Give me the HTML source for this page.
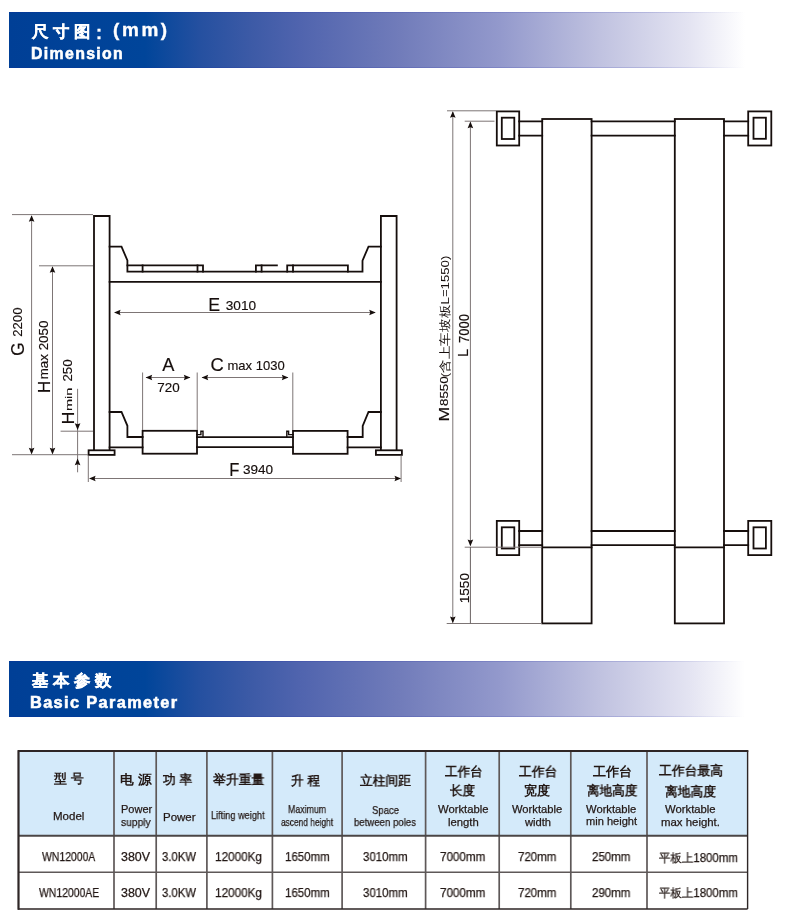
<!DOCTYPE html>
<html><head><meta charset="utf-8"><title>Dimension</title>
<style>
html,body{margin:0;padding:0;background:#fff;}
body{width:800px;height:918px;position:relative;overflow:hidden;font-family:"Liberation Sans",sans-serif;}
.bn{position:absolute;left:9px;width:736px;background:linear-gradient(to right, #003f96 0px, #00459a 136px, #2550a0 191px, #3c5aa6 241px, #5064ae 291px, #717cba 391px, #9399cc 491px, #c0c2e0 591px, #e4e4f2 681px, #ffffff 736px);}
.be{position:absolute;left:9px;width:736px;height:1px;background:linear-gradient(to right, rgba(20,30,160,0.16) 0, rgba(20,30,160,0.16) 640px, rgba(20,30,160,0) 736px);}
.bt{position:absolute;color:#fff;font-weight:bold;white-space:nowrap;line-height:1;}
.thb{position:absolute;background:#d4eafa;}
.ln{position:absolute;background:#3e3a39;}
.t{position:absolute;white-space:nowrap;line-height:1;transform-origin:0 0;will-change:transform;}
svg text{font-family:"Liberation Sans",sans-serif;}
</style></head><body>
<div class="bn" style="top:12px;height:56px"></div><div class="be" style="top:12px"></div><div class="be" style="top:67px"></div>
<svg width="800" height="918" viewBox="0 0 800 918" style="position:absolute;left:0;top:0;will-change:transform">
<path d="M94 450 V216 H109.6 V450" fill="none" stroke="#160e0c" stroke-width="1.8" stroke-linejoin="miter" stroke-linecap="square"/>
<path d="M380.9 450 V216 H396.6 V450" fill="none" stroke="#160e0c" stroke-width="1.8" stroke-linejoin="miter" stroke-linecap="square"/>
<rect x="88.6" y="450.3" width="26" height="4.6" fill="#fff" stroke="#160e0c" stroke-width="1.8"/>
<rect x="375.9" y="450.3" width="26" height="4.6" fill="#fff" stroke="#160e0c" stroke-width="1.8"/>
<path d="M109.6 246.6 H121.5 L127.4 260.5 V271.6 H362.5 V260.6 L368.5 246.6 H380.9" fill="none" stroke="#160e0c" stroke-width="1.8" stroke-linejoin="miter" stroke-linecap="square"/>
<path d="M127.4 265.4 H203 V271.6" fill="none" stroke="#160e0c" stroke-width="1.8" stroke-linejoin="miter" stroke-linecap="square"/>
<path d="M142.6 265.4 V271.6" fill="none" stroke="#160e0c" stroke-width="1.8" stroke-linejoin="miter" stroke-linecap="square"/>
<path d="M197.5 265.4 V271.6" fill="none" stroke="#160e0c" stroke-width="1.8" stroke-linejoin="miter" stroke-linecap="square"/>
<path d="M255.9 271.6 V265.4 H276.9" fill="none" stroke="#160e0c" stroke-width="1.8" stroke-linejoin="miter" stroke-linecap="square"/>
<path d="M261.6 265.4 V271.6" fill="none" stroke="#160e0c" stroke-width="1.8" stroke-linejoin="miter" stroke-linecap="square"/>
<path d="M287.2 271.6 V265.4 H347.9 V271.6" fill="none" stroke="#160e0c" stroke-width="1.8" stroke-linejoin="miter" stroke-linecap="square"/>
<path d="M293 265.4 V271.6" fill="none" stroke="#160e0c" stroke-width="1.8" stroke-linejoin="miter" stroke-linecap="square"/>
<path d="M109.6 281.8 H380.9" fill="none" stroke="#160e0c" stroke-width="1.8" stroke-linejoin="miter" stroke-linecap="square"/>
<path d="M109.6 412 H121.5 L127.4 425.8 V437 H142.6" fill="none" stroke="#160e0c" stroke-width="1.8" stroke-linejoin="miter" stroke-linecap="square"/>
<path d="M380.9 412 H368.5 L362.7 426 V437 H347.6" fill="none" stroke="#160e0c" stroke-width="1.8" stroke-linejoin="miter" stroke-linecap="square"/>
<rect x="142.6" y="430.8" width="54.4" height="22.9" fill="none" stroke="#160e0c" stroke-width="1.8"/>
<rect x="293" y="430.9" width="54.6" height="22.9" fill="none" stroke="#160e0c" stroke-width="1.8"/>
<path d="M197 434.6 H200.9 V431.3 H203 V437" fill="none" stroke="#160e0c" stroke-width="1.4" stroke-linejoin="miter" stroke-linecap="square"/>
<path d="M293 434.6 H288.6 V431.3 H286.8 V437" fill="none" stroke="#160e0c" stroke-width="1.4" stroke-linejoin="miter" stroke-linecap="square"/>
<path d="M109.6 447.3 H142.6" fill="none" stroke="#160e0c" stroke-width="1.8" stroke-linejoin="miter" stroke-linecap="square"/>
<path d="M197 437.1 H293" fill="none" stroke="#160e0c" stroke-width="1.8" stroke-linejoin="miter" stroke-linecap="square"/>
<path d="M197 447.2 H293" fill="none" stroke="#160e0c" stroke-width="1.8" stroke-linejoin="miter" stroke-linecap="square"/>
<path d="M347.6 447.3 H380.9" fill="none" stroke="#160e0c" stroke-width="1.8" stroke-linejoin="miter" stroke-linecap="square"/>
<line x1="12.00" y1="214.60" x2="93.00" y2="214.60" stroke="#7d7575" stroke-width="1"/>
<line x1="39.00" y1="265.80" x2="93.00" y2="265.80" stroke="#7d7575" stroke-width="1"/>
<line x1="12.00" y1="454.70" x2="88.00" y2="454.70" stroke="#7d7575" stroke-width="1"/>
<line x1="60.60" y1="431.20" x2="93.00" y2="431.20" stroke="#7d7575" stroke-width="1"/>
<line x1="31.60" y1="216.00" x2="31.60" y2="453.00" stroke="#7d7575" stroke-width="1"/>
<path d="M31.60 215.20 L28.80 221.80 L31.60 220.80 L34.40 221.80 Z" fill="#160e0c"/>
<path d="M31.60 454.40 L28.80 447.80 L31.60 448.80 L34.40 447.80 Z" fill="#160e0c"/>
<line x1="52.50" y1="267.00" x2="52.50" y2="453.00" stroke="#7d7575" stroke-width="1"/>
<path d="M52.50 266.20 L49.70 272.80 L52.50 271.80 L55.30 272.80 Z" fill="#160e0c"/>
<path d="M52.50 454.40 L49.70 447.80 L52.50 448.80 L55.30 447.80 Z" fill="#160e0c"/>
<line x1="77.60" y1="388.80" x2="77.60" y2="472.30" stroke="#7d7575" stroke-width="1"/>
<path d="M77.60 429.90 L74.80 423.30 L77.60 424.30 L80.40 423.30 Z" fill="#160e0c"/>
<path d="M77.60 458.60 L74.80 465.20 L77.60 464.20 L80.40 465.20 Z" fill="#160e0c"/>
<line x1="115.00" y1="312.50" x2="375.00" y2="312.50" stroke="#7d7575" stroke-width="1"/>
<path d="M114.00 312.50 L120.60 309.70 L119.60 312.50 L120.60 315.30 Z" fill="#160e0c"/>
<path d="M375.80 312.50 L369.20 309.70 L370.20 312.50 L369.20 315.30 Z" fill="#160e0c"/>
<line x1="142.60" y1="372.50" x2="142.60" y2="430.00" stroke="#7d7575" stroke-width="1"/>
<line x1="197.20" y1="372.50" x2="197.20" y2="430.00" stroke="#7d7575" stroke-width="1"/>
<line x1="292.80" y1="372.50" x2="292.80" y2="430.00" stroke="#7d7575" stroke-width="1"/>
<line x1="146.00" y1="377.50" x2="190.00" y2="377.50" stroke="#7d7575" stroke-width="1"/>
<path d="M145.60 377.50 L152.20 374.70 L151.20 377.50 L152.20 380.30 Z" fill="#160e0c"/>
<path d="M190.40 377.50 L183.80 374.70 L184.80 377.50 L183.80 380.30 Z" fill="#160e0c"/>
<line x1="202.00" y1="377.50" x2="288.00" y2="377.50" stroke="#7d7575" stroke-width="1"/>
<path d="M201.60 377.50 L208.20 374.70 L207.20 377.50 L208.20 380.30 Z" fill="#160e0c"/>
<path d="M288.40 377.50 L281.80 374.70 L282.80 377.50 L281.80 380.30 Z" fill="#160e0c"/>
<line x1="88.30" y1="455.60" x2="88.30" y2="482.00" stroke="#7d7575" stroke-width="1"/>
<line x1="401.10" y1="455.60" x2="401.10" y2="482.00" stroke="#7d7575" stroke-width="1"/>
<line x1="90.00" y1="478.50" x2="400.00" y2="478.50" stroke="#7d7575" stroke-width="1"/>
<path d="M89.00 478.50 L95.60 475.70 L94.60 478.50 L95.60 481.30 Z" fill="#160e0c"/>
<path d="M401.10 478.50 L394.50 475.70 L395.50 478.50 L394.50 481.30 Z" fill="#160e0c"/>
<rect x="496.80" y="111.40" width="22.40" height="34.10" fill="none" stroke="#160e0c" stroke-width="1.8"/>
<rect x="501.80" y="117.70" width="12.50" height="21.30" fill="none" stroke="#160e0c" stroke-width="1.8"/>
<rect x="748.20" y="111.40" width="23.10" height="34.10" fill="none" stroke="#160e0c" stroke-width="1.8"/>
<rect x="753.50" y="117.70" width="12.40" height="21.10" fill="none" stroke="#160e0c" stroke-width="1.8"/>
<rect x="496.80" y="520.90" width="22.40" height="34.20" fill="none" stroke="#160e0c" stroke-width="1.8"/>
<rect x="501.80" y="527.30" width="12.50" height="21.20" fill="none" stroke="#160e0c" stroke-width="1.8"/>
<rect x="748.20" y="520.90" width="23.10" height="34.20" fill="none" stroke="#160e0c" stroke-width="1.8"/>
<rect x="753.50" y="527.30" width="12.40" height="21.20" fill="none" stroke="#160e0c" stroke-width="1.8"/>
<path d="M519.2 121.30 H542.2 M591.6 121.30 H674.8 M724 121.30 H748.2" fill="none" stroke="#160e0c" stroke-width="1.8" stroke-linejoin="miter" stroke-linecap="square"/>
<path d="M519.2 135.60 H542.2 M591.6 135.60 H674.8 M724 135.60 H748.2" fill="none" stroke="#160e0c" stroke-width="1.8" stroke-linejoin="miter" stroke-linecap="square"/>
<path d="M519.2 531.00 H542.2 M591.6 531.00 H674.8 M724 531.00 H748.2" fill="none" stroke="#160e0c" stroke-width="1.8" stroke-linejoin="miter" stroke-linecap="square"/>
<path d="M519.2 545.10 H542.2 M591.6 545.10 H674.8 M724 545.10 H748.2" fill="none" stroke="#160e0c" stroke-width="1.8" stroke-linejoin="miter" stroke-linecap="square"/>
<rect x="542.20" y="119.00" width="49.40" height="504.40" fill="none" stroke="#160e0c" stroke-width="1.8"/>
<rect x="674.80" y="119.00" width="49.20" height="504.40" fill="none" stroke="#160e0c" stroke-width="1.8"/>
<path d="M542.2 547.3 H591.6 M674.8 547.3 H724" fill="none" stroke="#160e0c" stroke-width="1.8" stroke-linejoin="miter" stroke-linecap="square"/>
<line x1="447.00" y1="110.80" x2="496.00" y2="110.80" stroke="#7d7575" stroke-width="1"/>
<line x1="464.70" y1="121.20" x2="494.50" y2="121.20" stroke="#7d7575" stroke-width="1"/>
<line x1="464.70" y1="547.20" x2="542.00" y2="547.20" stroke="#7d7575" stroke-width="1"/>
<line x1="446.70" y1="623.50" x2="542.00" y2="623.50" stroke="#7d7575" stroke-width="1"/>
<line x1="452.80" y1="112.00" x2="452.80" y2="622.50" stroke="#7d7575" stroke-width="1"/>
<path d="M452.80 111.20 L450.00 117.80 L452.80 116.80 L455.60 117.80 Z" fill="#160e0c"/>
<path d="M452.80 623.20 L450.00 616.60 L452.80 617.60 L455.60 616.60 Z" fill="#160e0c"/>
<line x1="470.40" y1="122.50" x2="470.40" y2="545.50" stroke="#7d7575" stroke-width="1"/>
<path d="M470.40 121.60 L467.60 128.20 L470.40 127.20 L473.20 128.20 Z" fill="#160e0c"/>
<path d="M470.40 546.20 L467.60 539.60 L470.40 540.60 L473.20 539.60 Z" fill="#160e0c"/>
<line x1="470.40" y1="547.00" x2="470.40" y2="623.50" stroke="#6a6262" stroke-width="1"/>
<text transform="translate(208.29 310.80) scale(1.0158 1.0191)" font-size="17.5" fill="#160e0c" stroke="#160e0c" stroke-width="0.15">E</text>
<text transform="translate(225.71 309.59) scale(1.0666 1.0225)" font-size="12.8" fill="#160e0c" stroke="#160e0c" stroke-width="0.15">3010</text>
<text transform="translate(162.30 371.29) scale(1.0426 1.0195)" font-size="17.5" fill="#160e0c" stroke="#160e0c" stroke-width="0.15">A</text>
<text transform="translate(210.46 371.29) scale(1.0477 1.0195)" font-size="17.5" fill="#160e0c" stroke="#160e0c" stroke-width="0.15">C</text>
<text transform="translate(227.44 369.50) scale(1.0195 0.9264)" font-size="12.8" fill="#160e0c" stroke="#160e0c" stroke-width="0.15">max 1030</text>
<text transform="translate(157.33 391.57) scale(1.0500 0.9269)" font-size="12.8" fill="#160e0c" stroke="#160e0c" stroke-width="0.15">720</text>
<text transform="translate(229.18 475.53) scale(0.9464 0.9985)" font-size="17.5" fill="#160e0c" stroke="#160e0c" stroke-width="0.15">F</text>
<text transform="translate(242.90 474.20) scale(1.0609 1.0225)" font-size="12.8" fill="#160e0c" stroke="#160e0c" stroke-width="0.15">3940</text>
<text transform="translate(23.86 355.87) rotate(-90) scale(0.9700 1.0616)" font-size="17.5" fill="#160e0c" stroke="#160e0c" stroke-width="0.15">G</text>
<text transform="translate(22.19 336.78) rotate(-90) scale(1.0285 0.9771)" font-size="12.8" fill="#160e0c" stroke="#160e0c" stroke-width="0.15">2200</text>
<text transform="translate(49.76 392.93) rotate(-90) scale(0.9544 0.9768)" font-size="17.5" fill="#160e0c" stroke="#160e0c" stroke-width="0.15">H</text>
<text transform="translate(48.05 379.24) rotate(-90) scale(1.0272 1.0336)" font-size="13" fill="#160e0c" stroke="#160e0c" stroke-width="0.15">max 2050</text>
<text transform="translate(73.51 424.57) rotate(-90) scale(1.0254 0.8920)" font-size="17.5" fill="#160e0c" stroke="#160e0c" stroke-width="0.15">H</text>
<text transform="translate(72.00 411.05) rotate(-90) scale(1.1192 0.6864)" font-size="13" fill="#160e0c" stroke="#160e0c" stroke-width="0.15">min</text>
<text transform="translate(72.33 381.61) rotate(-90) scale(1.0569 0.9771)" font-size="12.6" fill="#160e0c" stroke="#160e0c" stroke-width="0.15">250</text>
<text transform="translate(448.76 421.61) rotate(-90) scale(1.0302 0.8817)" font-size="17" fill="#160e0c" stroke="#160e0c" stroke-width="0.15">M</text>
<text transform="translate(448.22 405.96) rotate(-90) scale(1.0588 0.9269)" font-size="12.6" fill="#160e0c" stroke="#160e0c" stroke-width="0.15">8550</text>
<text transform="translate(448.97 377.36) rotate(-90) scale(1.1010 0.9848)" font-size="12" fill="#160e0c">(含上车坡板L=1550)</text>
<text transform="translate(468.00 356.99) rotate(-90) scale(0.9900 0.9671)" font-size="15" fill="#160e0c" stroke="#160e0c" stroke-width="0.15">L</text>
<text transform="translate(468.61 343.12) rotate(-90) scale(1.0046 1.0857)" font-size="13" fill="#160e0c" stroke="#160e0c" stroke-width="0.15">7000</text>
<text transform="translate(469.00 603.37) rotate(-90) scale(1.0839 1.0000)" font-size="12.6" fill="#160e0c" stroke="#160e0c" stroke-width="0.15">1550</text>
</svg>
<div class="bn" style="top:660.5px;height:56.5px"></div><div class="be" style="top:660.5px"></div><div class="be" style="top:716px"></div>
<div class="thb" style="left:18.5px;top:751.1px;width:729.1px;height:84.7px"></div>
<svg width="800" height="918" style="position:absolute;left:0;top:0"><line x1="114.00" y1="751.10" x2="114.00" y2="909.00" stroke="#5e5858" stroke-width="1.7"/><line x1="156.20" y1="751.10" x2="156.20" y2="909.00" stroke="#5e5858" stroke-width="1.7"/><line x1="206.90" y1="751.10" x2="206.90" y2="909.00" stroke="#5e5858" stroke-width="1.7"/><line x1="272.40" y1="751.10" x2="272.40" y2="909.00" stroke="#5e5858" stroke-width="1.7"/><line x1="342.10" y1="751.10" x2="342.10" y2="909.00" stroke="#5e5858" stroke-width="1.7"/><line x1="425.60" y1="751.10" x2="425.60" y2="909.00" stroke="#5e5858" stroke-width="1.7"/><line x1="499.20" y1="751.10" x2="499.20" y2="909.00" stroke="#5e5858" stroke-width="1.7"/><line x1="570.80" y1="751.10" x2="570.80" y2="909.00" stroke="#5e5858" stroke-width="1.7"/><line x1="647.00" y1="751.10" x2="647.00" y2="909.00" stroke="#5e5858" stroke-width="1.7"/><line x1="18.00" y1="835.80" x2="747.60" y2="835.80" stroke="#4a4646" stroke-width="2"/><line x1="18.50" y1="872.20" x2="747.60" y2="872.20" stroke="#5e5858" stroke-width="1.6"/><path d="M18.50 751.10 V909.00 H747.60" fill="none" stroke="#2e2626" stroke-width="1.4"/><path d="M18.50 751.10 H747.60 V909.00" fill="none" stroke="#2e2626" stroke-width="1.4"/><path d="M18.50 750.10 V909.70 M17.50 751.10 H748.30" fill="none" stroke="#2e2626" stroke-width="2"/></svg>
<div class="t" style="left:31.65px;top:22.70px;font-size:16.2px;font-weight:bold;-webkit-text-stroke:0.35px #ffffff;letter-spacing:4.6px;transform:scaleX(1.0232);color:#ffffff;">尺寸图</div>
<div class="t" style="left:95.50px;top:24.16px;font-size:18px;font-weight:bold;-webkit-text-stroke:0.3px #ffffff;color:#ffffff;">:</div>
<div class="t" style="left:113.06px;top:21.46px;font-size:18px;font-weight:bold;-webkit-text-stroke:0.35px #ffffff;letter-spacing:2.5px;transform:scaleX(1.0519);color:#ffffff;">(mm)</div>
<div class="t" style="left:30.93px;top:45.96px;font-size:15.7px;font-weight:bold;-webkit-text-stroke:0.55px #ffffff;letter-spacing:1.3px;transform:scaleX(1.0131);color:#ffffff;">Dimension</div>
<div class="t" style="left:32.00px;top:672.20px;font-size:16.2px;font-weight:bold;-webkit-text-stroke:0.35px #ffffff;letter-spacing:4.6px;transform:scaleX(1.0256);color:#ffffff;">基本参数</div>
<div class="t" style="left:30.25px;top:694.75px;font-size:15.8px;font-weight:bold;-webkit-text-stroke:0.55px #ffffff;letter-spacing:1.3px;transform:scaleX(1.0358);color:#ffffff;">Basic Parameter</div>
<div class="t" style="left:53.52px;top:772.40px;font-size:13px;font-weight:bold;transform:scaleX(0.9920);color:#231815;">型 号</div>
<div class="t" style="left:120.39px;top:773.40px;font-size:13px;font-weight:bold;transform:scaleX(1.0562);color:#231815;">电 源</div>
<div class="t" style="left:163.30px;top:773.40px;font-size:13px;font-weight:bold;transform:scaleX(0.9724);color:#231815;">功 率</div>
<div class="t" style="left:212.50px;top:773.20px;font-size:13px;font-weight:bold;transform:scaleX(0.9884);color:#231815;">举升重量</div>
<div class="t" style="left:290.52px;top:773.60px;font-size:13px;font-weight:bold;transform:scaleX(0.9667);color:#231815;">升 程</div>
<div class="t" style="left:359.51px;top:773.60px;font-size:13px;font-weight:bold;transform:scaleX(0.9808);color:#231815;">立柱间距</div>
<div class="t" style="left:444.68px;top:765.00px;font-size:13px;font-weight:bold;transform:scaleX(0.9666);color:#231815;">工作台</div>
<div class="t" style="left:450.37px;top:784.40px;font-size:13px;font-weight:bold;transform:scaleX(0.9609);color:#231815;">长度</div>
<div class="t" style="left:518.53px;top:764.80px;font-size:13px;font-weight:bold;transform:scaleX(0.9835);color:#231815;">工作台</div>
<div class="t" style="left:524.46px;top:783.80px;font-size:13px;font-weight:bold;color:#231815;">宽度</div>
<div class="t" style="left:592.72px;top:764.80px;font-size:13px;font-weight:bold;transform:scaleX(1.0086);color:#231815;">工作台</div>
<div class="t" style="left:586.69px;top:783.80px;font-size:13px;font-weight:bold;transform:scaleX(0.9681);color:#231815;">离地高度</div>
<div class="t" style="left:658.70px;top:764.40px;font-size:13px;font-weight:bold;transform:scaleX(0.9856);color:#231815;">工作台最高</div>
<div class="t" style="left:664.51px;top:785.40px;font-size:13px;font-weight:bold;transform:scaleX(0.9808);color:#231815;">离地高度</div>
<div class="t" style="left:52.66px;top:811.07px;font-size:11px;transform:scaleX(1.0469);color:#231815;-webkit-text-stroke:0.25px #231815;">Model</div>
<div class="t" style="left:120.67px;top:804.37px;font-size:11px;color:#231815;-webkit-text-stroke:0.25px #231815;">Power</div>
<div class="t" style="left:121.48px;top:816.67px;font-size:11px;transform:scaleX(0.9355);color:#231815;-webkit-text-stroke:0.25px #231815;">supply</div>
<div class="t" style="left:162.98px;top:811.57px;font-size:11px;transform:scaleX(1.0452);color:#231815;-webkit-text-stroke:0.25px #231815;">Power</div>
<div class="t" style="left:210.67px;top:809.57px;font-size:11px;transform:scaleX(0.8340);color:#231815;-webkit-text-stroke:0.25px #231815;">Lifting weight</div>
<div class="t" style="left:287.68px;top:803.57px;font-size:11px;transform:scaleX(0.7987);color:#231815;-webkit-text-stroke:0.25px #231815;">Maximum</div>
<div class="t" style="left:281.17px;top:817.17px;font-size:11px;transform:scaleX(0.7595);color:#231815;-webkit-text-stroke:0.25px #231815;">ascend height</div>
<div class="t" style="left:371.96px;top:804.57px;font-size:11px;transform:scaleX(0.8679);color:#231815;-webkit-text-stroke:0.25px #231815;">Space</div>
<div class="t" style="left:354.19px;top:817.07px;font-size:11px;transform:scaleX(0.8737);color:#231815;-webkit-text-stroke:0.25px #231815;">between poles</div>
<div class="t" style="left:437.71px;top:803.57px;font-size:11px;transform:scaleX(1.0239);color:#231815;-webkit-text-stroke:0.25px #231815;">Worktable</div>
<div class="t" style="left:447.50px;top:817.17px;font-size:11px;transform:scaleX(1.0262);color:#231815;-webkit-text-stroke:0.25px #231815;">length</div>
<div class="t" style="left:511.58px;top:803.97px;font-size:11px;transform:scaleX(1.0180);color:#231815;-webkit-text-stroke:0.25px #231815;">Worktable</div>
<div class="t" style="left:524.66px;top:817.07px;font-size:11px;transform:scaleX(1.0146);color:#231815;-webkit-text-stroke:0.25px #231815;">width</div>
<div class="t" style="left:585.51px;top:803.57px;font-size:11px;transform:scaleX(1.0204);color:#231815;-webkit-text-stroke:0.25px #231815;">Worktable</div>
<div class="t" style="left:586.49px;top:816.37px;font-size:11px;transform:scaleX(1.0061);color:#231815;-webkit-text-stroke:0.25px #231815;">min height</div>
<div class="t" style="left:664.50px;top:803.57px;font-size:11px;transform:scaleX(1.0265);color:#231815;-webkit-text-stroke:0.25px #231815;">Worktable</div>
<div class="t" style="left:661.25px;top:817.07px;font-size:11px;transform:scaleX(1.0366);color:#231815;-webkit-text-stroke:0.25px #231815;">max height.</div>
<div class="t" style="left:42.16px;top:851.44px;font-size:12px;transform:scaleX(0.8692);color:#231815;-webkit-text-stroke:0.25px #231815;">WN12000A</div>
<div class="t" style="left:38.51px;top:887.44px;font-size:12px;transform:scaleX(0.8679);color:#231815;-webkit-text-stroke:0.25px #231815;">WN12000AE</div>
<div class="t" style="left:121.48px;top:851.44px;font-size:12px;transform:scaleX(1.0370);color:#231815;-webkit-text-stroke:0.25px #231815;">380V</div>
<div class="t" style="left:121.48px;top:887.44px;font-size:12px;transform:scaleX(1.0370);color:#231815;-webkit-text-stroke:0.25px #231815;">380V</div>
<div class="t" style="left:161.52px;top:851.44px;font-size:12px;transform:scaleX(0.9436);color:#231815;-webkit-text-stroke:0.25px #231815;">3.0KW</div>
<div class="t" style="left:161.52px;top:887.44px;font-size:12px;transform:scaleX(0.9436);color:#231815;-webkit-text-stroke:0.25px #231815;">3.0KW</div>
<div class="t" style="left:215.49px;top:851.44px;font-size:12px;transform:scaleX(0.9792);color:#231815;-webkit-text-stroke:0.25px #231815;">12000Kg</div>
<div class="t" style="left:215.49px;top:887.44px;font-size:12px;transform:scaleX(0.9792);color:#231815;-webkit-text-stroke:0.25px #231815;">12000Kg</div>
<div class="t" style="left:285.49px;top:851.44px;font-size:12px;transform:scaleX(0.9571);color:#231815;-webkit-text-stroke:0.25px #231815;">1650mm</div>
<div class="t" style="left:285.49px;top:887.44px;font-size:12px;transform:scaleX(0.9571);color:#231815;-webkit-text-stroke:0.25px #231815;">1650mm</div>
<div class="t" style="left:362.62px;top:851.44px;font-size:12px;transform:scaleX(0.9548);color:#231815;-webkit-text-stroke:0.25px #231815;">3010mm</div>
<div class="t" style="left:362.62px;top:887.44px;font-size:12px;transform:scaleX(0.9548);color:#231815;-webkit-text-stroke:0.25px #231815;">3010mm</div>
<div class="t" style="left:440.44px;top:851.44px;font-size:12px;transform:scaleX(0.9692);color:#231815;-webkit-text-stroke:0.25px #231815;">7000mm</div>
<div class="t" style="left:440.44px;top:887.44px;font-size:12px;transform:scaleX(0.9692);color:#231815;-webkit-text-stroke:0.25px #231815;">7000mm</div>
<div class="t" style="left:518.26px;top:851.44px;font-size:12px;transform:scaleX(0.9578);color:#231815;-webkit-text-stroke:0.25px #231815;">720mm</div>
<div class="t" style="left:518.26px;top:887.44px;font-size:12px;transform:scaleX(0.9578);color:#231815;-webkit-text-stroke:0.25px #231815;">720mm</div>
<div class="t" style="left:591.87px;top:851.44px;font-size:12px;transform:scaleX(0.9584);color:#231815;-webkit-text-stroke:0.25px #231815;">250mm</div>
<div class="t" style="left:591.87px;top:887.44px;font-size:12px;transform:scaleX(0.9584);color:#231815;-webkit-text-stroke:0.25px #231815;">290mm</div>
<div class="t" style="left:658.72px;top:852.44px;font-size:12px;transform:scaleX(0.9535);color:#231815;-webkit-text-stroke:0.25px #231815;">平板上1800mm</div>
<div class="t" style="left:658.72px;top:887.24px;font-size:12px;transform:scaleX(0.9535);color:#231815;-webkit-text-stroke:0.25px #231815;">平板上1800mm</div>
</body></html>
